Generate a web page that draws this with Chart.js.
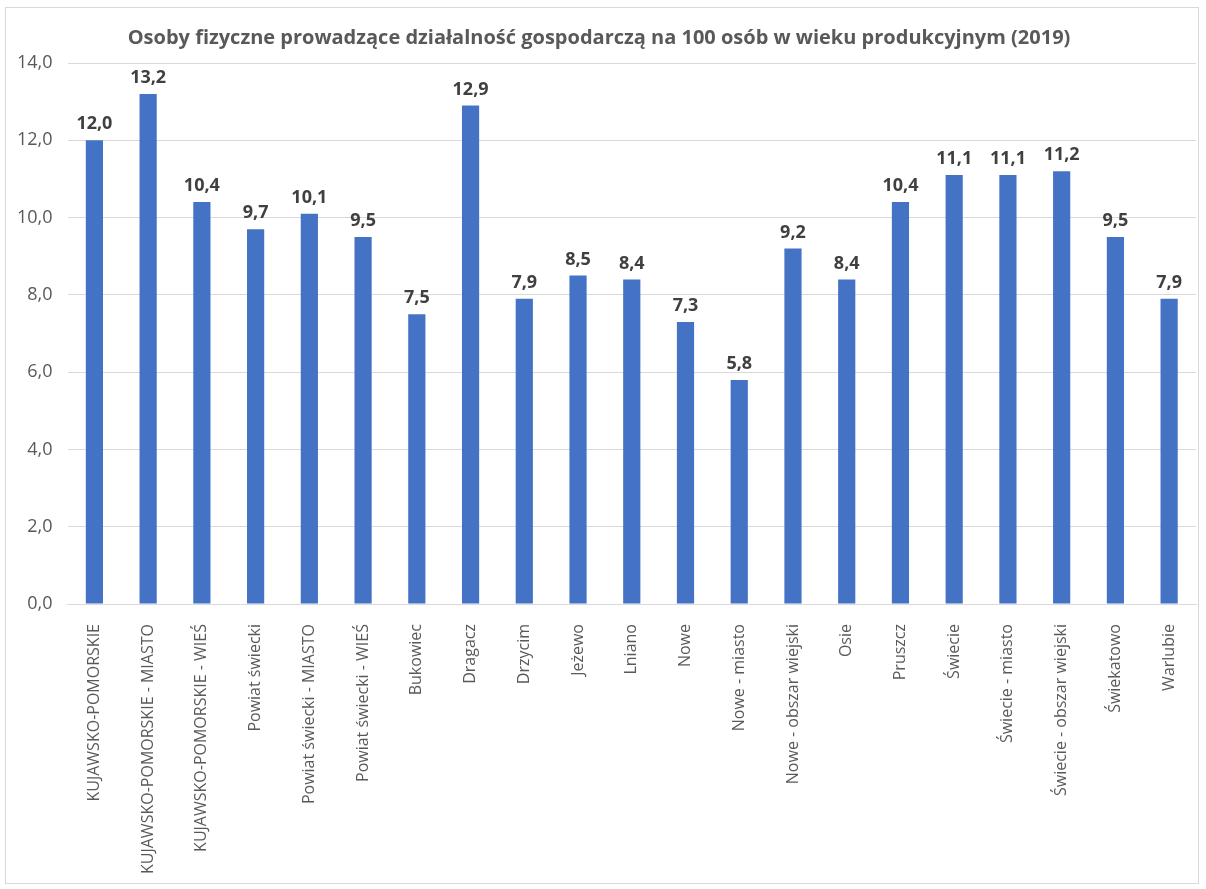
<!DOCTYPE html>
<html lang="pl">
<head>
  <meta charset="UTF-8" />
  <title>Osoby fizyczne prowadzące działalność gospodarczą</title>
  <script src="https://cdn.jsdelivr.net/npm/chart.js"></script>
  <style>
    html, body {
      margin: 0;
      padding: 0;
      background: #ffffff;
    }
    .frame {
      position: absolute;
      left: 5px;
      top: 7px;
      width: 1194px;
      height: 877px;
      border: 1px solid #d9d9d9;
      box-sizing: border-box;
    }
    #chart {
      position: absolute;
      left: 0;
      top: 0;
    }
  </style>
</head>
<body>
  <div class="frame"></div>
  <canvas id="chart" width="1206" height="889"></canvas>

  <script>
    const categories = [
      'KUJAWSKO-POMORSKIE',
      'KUJAWSKO-POMORSKIE - MIASTO',
      'KUJAWSKO-POMORSKIE - WIEŚ',
      'Powiat świecki',
      'Powiat świecki - MIASTO',
      'Powiat świecki - WIEŚ',
      'Bukowiec',
      'Dragacz',
      'Drzycim',
      'Jeżewo',
      'Lniano',
      'Nowe',
      'Nowe - miasto',
      'Nowe - obszar wiejski',
      'Osie',
      'Pruszcz',
      'Świecie',
      'Świecie - miasto',
      'Świecie - obszar wiejski',
      'Świekatowo',
      'Warlubie'
    ];
    const values = [12.0, 13.2, 10.4, 9.7, 10.1, 9.5, 7.5, 12.9, 7.9, 8.5, 8.4, 7.3, 5.8, 9.2, 8.4, 10.4, 11.1, 11.1, 11.2, 9.5, 7.9];
    const yTicks = [0, 2, 4, 6, 8, 10, 12, 14];

    const fmt = v => v.toFixed(1).replace('.', ',');

    // value labels over bars, like Excel data labels
    const barLabels = {
      id: 'barLabels',
      afterDatasetsDraw(chart) {
        const ctx = chart.ctx;
        ctx.save();
        ctx.font = 'bold 18px "Open Sans", sans-serif';
        ctx.fillStyle = '#404040';
        ctx.textAlign = 'center';
        ctx.textBaseline = 'bottom';
        chart.getDatasetMeta(0).data.forEach((bar, i) => {
          ctx.fillText(fmt(values[i]), bar.x, bar.y - 7);
        });
        ctx.restore();
      }
    };

    new Chart(document.getElementById('chart').getContext('2d'), {
      type: 'bar',
      data: {
        labels: categories,
        datasets: [{
          data: values,
          backgroundColor: '#4472c4',
          barPercentage: 0.32,
          categoryPercentage: 1.0
        }]
      },
      options: {
        responsive: false,
        animation: false,
        layout: { padding: { left: 2, right: 10, top: 10, bottom: 3 } },
        plugins: {
          legend: { display: false },
          tooltip: { enabled: false },
          title: {
            display: true,
            text: 'Osoby fizyczne prowadzące działalność gospodarczą na 100 osób w wieku produkcyjnym (2019)',
            color: '#595959',
            font: { family: '"Open Sans", sans-serif', size: 20, weight: 'bold' },
            padding: { top: 16, bottom: 13 }
          }
        },
        scales: {
          x: {
            grid: { display: false },
            border: { color: '#d9d9d9', width: 1 },
            ticks: {
              color: '#595959',
              font: { family: '"Open Sans", sans-serif', size: 16 },
              maxRotation: 90,
              minRotation: 90,
              autoSkip: false,
              padding: 12
            }
          },
          y: {
            min: 0,
            max: 14,
            afterBuildTicks(axis) {
              axis.ticks = yTicks.map(v => ({ value: v }));
            },
            grid: { color: '#d9d9d9', drawTicks: false },
            border: { display: false },
            ticks: {
              color: '#595959',
              font: { family: '"Open Sans", sans-serif', size: 18 },
              padding: 15,
              callback: v => fmt(v)
            }
          }
        }
      },
      plugins: [barLabels]
    });
  </script>
</body>
</html>
